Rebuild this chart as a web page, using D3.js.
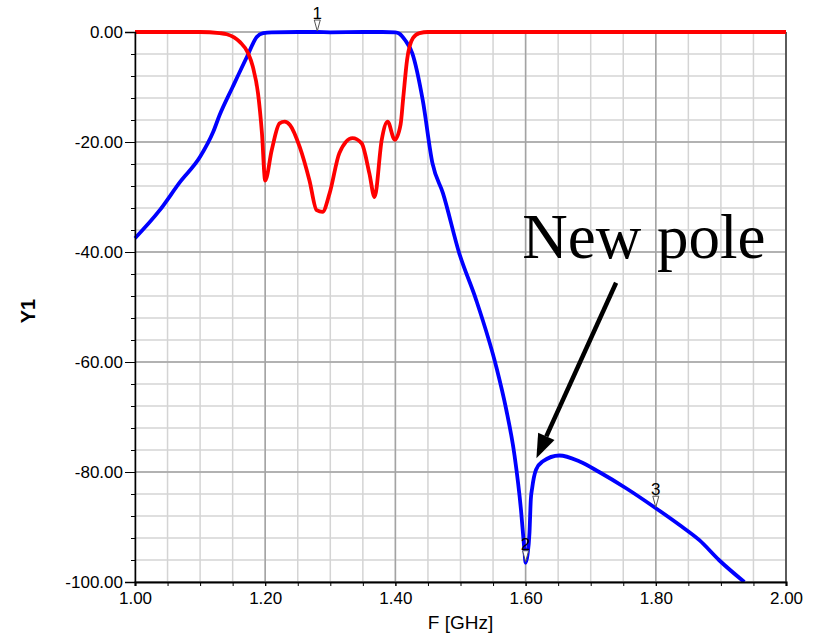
<!DOCTYPE html>
<html lang="en">
  <head>
    <meta charset="UTF-8" />
    <title>Filter response</title>
    <script src="https://d3js.org/d3.v7.min.js"></script>
    <style>
      body {
        margin: 0;
        padding: 0;
        background: #fff;
      }
      svg {
        display: block;
        font-family: "Liberation Sans", Arial, sans-serif;
      }
      .grid-minor line { stroke: #d4d4d4; stroke-width: 1.5; }
      .grid-major line { stroke: #a3a3a3; stroke-width: 1.5; }
      .axis text { font-size: 17px; fill: #000; }
      .axis path, .axis line { stroke: #000; }
      .marker text { font-size: 17px; fill: #000; }
    </style>
  </head>
  <body>
    <script>
      // Blue trace (transmission), frequency in GHz / level in dB
      const s21Freq = [1.000, 1.038, 1.069, 1.100, 1.120, 1.130, 1.150, 1.172, 1.187, 1.197,
                       1.210, 1.250, 1.280, 1.300, 1.350, 1.380, 1.400, 1.406, 1.415, 1.426,
                       1.442, 1.457, 1.473, 1.498, 1.524, 1.555, 1.570, 1.583, 1.593, 1.598,
                       1.600, 1.603, 1.606, 1.608, 1.610, 1.616, 1.626, 1.652, 1.683, 1.713,
                       1.755, 1.799, 1.836, 1.867, 1.897, 1.936];
      const s21Vals = [-37.5, -32.4, -27.3, -22.7, -18.2, -15.1, -10.0, -4.5, -0.9, -0.2,
                       -0.05, 0, 0, -0.05, 0, 0, -0.05, -0.3, -1.5, -3.9,
                       -12.4, -23.9, -29.3, -40.2, -48.7, -60.9, -68.5, -77.0, -87.0, -94.0,
                       -96.5, -95.0, -91.0, -85.0, -83.0, -79.6, -78.1, -77.0, -78.1, -80.0,
                       -83.0, -86.5, -89.6, -92.4, -96.0, -100.0];

      // Red trace (reflection)
      const s11Freq = [1.000, 1.100, 1.130, 1.141, 1.161, 1.174, 1.181, 1.189, 1.195, 1.200,
                       1.210, 1.222, 1.230, 1.238, 1.253, 1.268, 1.279, 1.288, 1.299, 1.314,
                       1.334, 1.348, 1.360, 1.368, 1.379, 1.388, 1.399, 1.408, 1.412, 1.418,
                       1.427, 1.437, 1.450, 2.000];
      const s11Vals = [0, 0, -0.2, -0.4, -1.8, -3.9, -6.3, -11.2, -18.4, -27.0,
                       -21.5, -16.6, -16.3, -16.9, -20.9, -27.0, -32.4, -32.7, -29.3, -22.0,
                       -19.3, -20.2, -25.7, -30.0, -19.6, -16.3, -19.6, -16.8, -12.0, -5.0,
                       -1.1, -0.2, 0, 0];

      // Markers on the blue trace
      const markerFreq = [1.28, 1.60, 1.80];
      const markerLabels = ["1", "2", "3"];

      const xTicks = [1.0, 1.2, 1.4, 1.6, 1.8, 2.0];
      const yTicks = [0, -20, -40, -60, -80, -100];

      const width = 814, height = 633;
      const margin = { top: 32, right: 28, bottom: 51, left: 135 };
      const innerW = width - margin.left - margin.right;
      const innerH = height - margin.top - margin.bottom;

      const svg = d3.select("body").append("svg")
                    .attr("width", width)
                    .attr("height", height);
      const g = svg.append("g")
                   .attr("transform", `translate(${margin.left},${margin.top})`);

      const x = d3.scaleLinear().domain([1.0, 2.0]).range([0, innerW]);
      const y = d3.scaleLinear().domain([-100, 0]).range([innerH, 0]);

      const fmt = d3.formatLocale({ decimal: ".", thousands: ",", grouping: [3],
                                    currency: ["", ""], minus: "-" }).format(".2f");

      const xMinor = d3.range(0, 21).map(i => 1 + i * 0.05);
      const yMinor = d3.range(0, 26).map(i => -i * 4);

      // grid
      const minor = g.append("g").attr("class", "grid-minor");
      minor.selectAll("line.v").data(xMinor).join("line")
          .attr("class", "v")
          .attr("x1", d => x(d)).attr("x2", d => x(d))
          .attr("y1", 0).attr("y2", innerH);
      minor.selectAll("line.h").data(yMinor).join("line")
          .attr("class", "h")
          .attr("x1", 0).attr("x2", innerW)
          .attr("y1", d => y(d)).attr("y2", d => y(d));
      const major = g.append("g").attr("class", "grid-major");
      major.selectAll("line.v").data(xTicks).join("line")
          .attr("class", "v")
          .attr("x1", d => x(d)).attr("x2", d => x(d))
          .attr("y1", 0).attr("y2", innerH);
      major.selectAll("line.h").data(yTicks).join("line")
          .attr("class", "h")
          .attr("x1", 0).attr("x2", innerW)
          .attr("y1", d => y(d)).attr("y2", d => y(d));

      // right frame edge
      g.append("line")
        .attr("x1", innerW).attr("x2", innerW)
        .attr("y1", 0).attr("y2", innerH)
        .attr("stroke", "#222").attr("stroke-width", 1.2);

      // traces
      svg.append("defs").append("clipPath").attr("id", "plot-clip")
        .append("rect")
          .attr("x", -3).attr("y", -4)
          .attr("width", innerW + 6).attr("height", innerH + 4);

      const line = d3.line()
                     .x(d => x(d[0]))
                     .y(d => y(d[1]))
                     .curve(d3.curveMonotoneX);
      const traces = g.append("g").attr("clip-path", "url(#plot-clip)");
      traces.append("path")
        .datum(d3.zip(s21Freq, s21Vals))
        .attr("fill", "none")
        .attr("stroke", "#0000ff")
        .attr("stroke-width", 3.8)
        .attr("stroke-linejoin", "round")
        .attr("d", line);
      traces.append("path")
        .datum(d3.zip(s11Freq, s11Vals))
        .attr("fill", "none")
        .attr("stroke", "#ff0000")
        .attr("stroke-width", 3.8)
        .attr("stroke-linejoin", "round")
        .attr("d", line);

      // axes
      const yAxisMinor = g.append("g").attr("class", "axis")
        .call(d3.axisLeft(y).tickValues(yMinor).tickSize(4).tickFormat(""));
      yAxisMinor.select(".domain").remove();
      const yAxis = g.append("g").attr("class", "axis")
        .call(d3.axisLeft(y).tickValues(yTicks).tickSize(10).tickPadding(2).tickFormat(fmt));
      yAxis.select(".domain").attr("stroke-width", 1.5);

      const xAxis = g.append("g").attr("class", "axis")
        .attr("transform", `translate(0,${innerH})`)
        .call(d3.axisBottom(x).tickValues(xMinor).tickSize(4).tickFormat(""));
      xAxis.select(".domain").attr("stroke-width", 2.2);
      g.append("g").attr("class", "axis")
        .attr("transform", `translate(0,${innerH})`)
        .call(d3.axisBottom(x).tickValues(xTicks).tickSize(4).tickPadding(6).tickFormat(fmt))
        .select(".domain").remove();

      // axis titles
      svg.append("text")
        .attr("x", margin.left + innerW / 2)
        .attr("y", 629)
        .attr("text-anchor", "middle")
        .style("font-size", "19px")
        .text("F [GHz]");
      svg.append("text")
        .attr("transform", "translate(35,311) rotate(-90)")
        .attr("text-anchor", "middle")
        .style("font-size", "20px")
        .style("font-weight", "bold")
        .text("Y1");

      // markers
      const markerVal = f => {
        const i = d3.bisectLeft(s21Freq, f);
        if (s21Freq[i] === f) return s21Vals[i];
        const t = (f - s21Freq[i - 1]) / (s21Freq[i] - s21Freq[i - 1]);
        return s21Vals[i - 1] + t * (s21Vals[i] - s21Vals[i - 1]);
      };
      const markers = g.append("g").attr("class", "marker")
        .selectAll("g").data(markerFreq).join("g")
          .attr("transform", d => `translate(${x(d)},${y(markerVal(d)) - 1})`);
      markers.append("path")
        .attr("d", "M0,0 L-3,-11 L3,-11 Z")
        .attr("fill", "#fff")
        .attr("stroke", "#555")
        .attr("stroke-width", 1);
      markers.append("text")
        .attr("y", -12)
        .attr("text-anchor", "middle")
        .text((d, i) => markerLabels[i]);

      // annotation
      g.append("text")
        .attr("x", x(1.595))
        .attr("y", y(-41.1))
        .style("font-family", "'Liberation Serif', 'Times New Roman', serif")
        .style("font-size", "63px")
        .text("New pole");

      const ax0 = x(1.739), ay0 = y(-45.6);
      const ax1 = x(1.6166), ay1 = y(-77.5);
      const ang = Math.atan2(ay1 - ay0, ax1 - ax0);
      const headLen = 24, headHalf = 9;
      const bx = ax1 - headLen * Math.cos(ang), by = ay1 - headLen * Math.sin(ang);
      g.append("line")
        .attr("x1", ax0).attr("y1", ay0)
        .attr("x2", bx).attr("y2", by)
        .attr("stroke", "#000").attr("stroke-width", 4.5);
      g.append("path")
        .attr("d", `M${ax1},${ay1}` +
                   `L${bx + headHalf * Math.sin(ang)},${by - headHalf * Math.cos(ang)}` +
                   `L${bx - headHalf * Math.sin(ang)},${by + headHalf * Math.cos(ang)}Z`)
        .attr("fill", "#000");
    </script>
  </body>
</html>
